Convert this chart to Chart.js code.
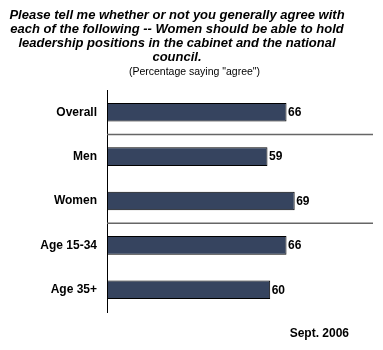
<!DOCTYPE html>
<html>
<head>
<meta charset="utf-8">
<script src="https://cdn.jsdelivr.net/npm/chart.js@4.4.1/dist/chart.umd.min.js"></script>
<style>
  html, body { margin: 0; padding: 0; background: #fff; }
  #wrap { width: 383px; height: 350px; position: relative; }
</style>
</head>
<body>
<div id="wrap"><canvas id="chart" width="383" height="350"></canvas></div>
<script>
const groups = ["Overall", "Men", "Women", "Age 15-34", "Age 35+"];
const agreePct = [66, 59, 69, 66, 60];
const titleLines = [
    "Please tell me whether or not you generally agree with",
    "each of the following -- Women should be able to hold",
    "leadership positions in the cabinet and the national",
    "council."
];
const subtitleText = "(Percentage saying \"agree\")";
const dateNote = "Sept. 2006";
// groups are split into blocks: overall | gender | age
const blockBreaks = [1, 3];

const FONT = "'Liberation Sans', Arial, sans-serif";

const headerText = {
    id: "headerText",
    afterDraw(chart) {
        const ctx = chart.ctx;
        ctx.save();
        ctx.fillStyle = "#000";
        ctx.textAlign = "center";
        ctx.textBaseline = "middle";
        ctx.font = "italic bold 13px " + FONT;
        titleLines.forEach((line, i) => ctx.fillText(line, 177, 15 + i * 14.3));
        ctx.font = "10.5px " + FONT;
        ctx.fillText(subtitleText, 194.5, 72);
        ctx.font = "bold 12px " + FONT;
        ctx.textAlign = "right";
        ctx.fillText(dateNote, 349, 334);
        ctx.restore();
    }
};

const blockLines = {
    id: "blockLines",
    afterDatasetsDraw(chart) {
        const ctx = chart.ctx;
        const y = chart.scales.y;
        const area = chart.chartArea;
        ctx.save();
        ctx.strokeStyle = "#666";
        ctx.lineWidth = 1.5;
        blockBreaks.forEach(i => {
            const yy = (y.getPixelForValue(i - 1) + y.getPixelForValue(i)) / 2;
            ctx.beginPath();
            ctx.moveTo(area.left, yy);
            ctx.lineTo(373, yy);
            ctx.stroke();
        });
        ctx.restore();
    }
};

const valueLabels = {
    id: "valueLabels",
    afterDatasetsDraw(chart) {
        const ctx = chart.ctx;
        const meta = chart.getDatasetMeta(0);
        ctx.save();
        ctx.fillStyle = "#000";
        ctx.font = "bold 12px " + FONT;
        ctx.textAlign = "left";
        ctx.textBaseline = "middle";
        meta.data.forEach((bar, i) => {
            ctx.fillText(String(agreePct[i]), bar.x + 1.5, bar.y + 0.5);
        });
        ctx.restore();
    }
};

new Chart(document.getElementById("chart"), {
    type: "bar",
    data: {
        labels: groups,
        datasets: [{
            data: agreePct,
            backgroundColor: "#36445F",
            borderColor: "#000",
            borderWidth: 1,
            borderSkipped: false,
            categoryPercentage: 1,
            barPercentage: 0.42
        }]
    },
    options: {
        indexAxis: "y",
        responsive: false,
        animation: false,
        layout: { padding: { top: 90, bottom: 38, left: 0, right: 4 } },
        plugins: {
            legend: { display: false },
            title: { display: false },
            tooltip: { enabled: false }
        },
        scales: {
            x: { display: false, min: 0, max: 100 },
            y: {
                afterFit(scale) { scale.width = 107; },
                grid: { display: false, drawTicks: false },
                border: { display: true, color: "#000", width: 1 },
                ticks: {
                    padding: 10,
                    color: "#000",
                    font: { family: FONT, size: 12, weight: "bold" }
                }
            }
        }
    },
    plugins: [headerText, blockLines, valueLabels]
});
</script>
</body>
</html>
